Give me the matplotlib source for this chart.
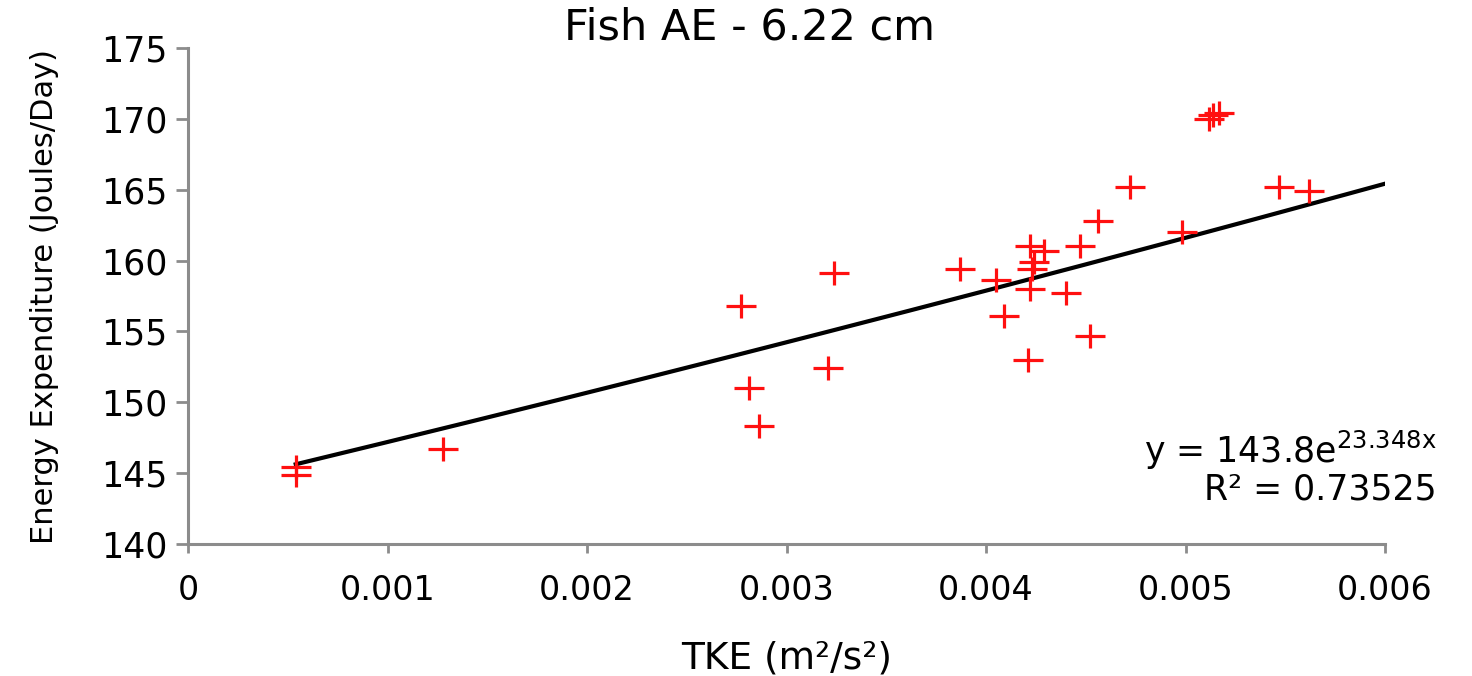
import numpy as np
import matplotlib
matplotlib.use("Agg")
import matplotlib.pyplot as plt
from matplotlib.path import Path

## Data ##

tke = [0.00054, 0.00054, 0.00128, 0.00277, 0.00281, 0.00286, 0.00321,
       0.00324, 0.00387, 0.00405, 0.00409, 0.00421, 0.00422, 0.00423,
       0.00424, 0.00422, 0.00429, 0.00440, 0.00447, 0.00452, 0.00456,
       0.00472, 0.00498, 0.00512, 0.00514, 0.00517, 0.00547, 0.00562]
energy = [145.4, 144.9, 146.7, 156.8, 151.0, 148.3, 152.4,
          159.1, 159.4, 158.6, 156.1, 153.0, 158.0, 159.4,
          159.9, 161.0, 160.7, 157.7, 161.0, 154.7, 162.8,
          165.2, 162.0, 170.0, 170.3, 170.4, 165.2, 164.9]

# exponential trend line  y = a * exp(b * x)
fit_a = 143.8
fit_b = 23.348
fit_r2 = 0.73525
fit_x_end = 0.006

x_ticks = [0, 0.001, 0.002, 0.003, 0.004, 0.005, 0.006]
x_tick_labels = ["0", "0.001", "0.002", "0.003", "0.004", "0.005", "0.006"]
y_ticks = [140, 145, 150, 155, 160, 165, 170, 175]

####

W, H = 1472, 676
fig = plt.figure(figsize=(W / 100, H / 100), dpi=100)
ax = fig.add_axes([188 / W, 1 - 544 / H, (1385 - 188) / W, (544 - 48) / H])

# wide plus marker (the source image is stretched sideways)
plus = Path([(-1.25, 0), (1.25, 0), (0, -1), (0, 1)],
            [Path.MOVETO, Path.LINETO, Path.MOVETO, Path.LINETO])

ax.plot(tke, energy, linestyle="none", marker=plus, markersize=22,
        markeredgewidth=2.3, color="#ff1010", zorder=3)

xs = np.linspace(min(tke), fit_x_end, 200)
ax.plot(xs, fit_a * np.exp(fit_b * xs), color="black", linewidth=3.0, zorder=2)

ax.set_xlim(0, 0.006)
ax.set_ylim(140, 175)
ax.set_xticks(x_ticks)
ax.set_xticklabels(x_tick_labels)
ax.set_yticks(y_ticks)

for side in ("top", "right"):
    ax.spines[side].set_visible(False)
for side in ("left", "bottom"):
    ax.spines[side].set_color("#8c8c8c")
    ax.spines[side].set_linewidth(2.2)

ax.tick_params(axis="x", direction="out", length=6.5, width=2, color="#8c8c8c",
               labelsize=24, pad=15)
ax.tick_params(axis="y", direction="out", length=9, width=2, color="#8c8c8c",
               labelsize=25, pad=6)

ax.set_xlabel("TKE (m²/s²)", fontsize=27, labelpad=24)
ax.set_ylabel("Energy Expenditure (Joules/Day)", fontsize=22, labelpad=30)
fig.suptitle("Fish AE - 6.22 cm", x=749 / W, y=0.99, fontsize=31, va="top")

ax.text(1437 / W, 1 - 450 / H, r"y = 143.8e$^{\mathregular{23.348x}}$",
        transform=fig.transFigure, ha="right", va="center", fontsize=25)
ax.text(1437 / W, 1 - 490 / H, "R² = " + str(fit_r2),
        transform=fig.transFigure, ha="right", va="center", fontsize=25)

fig.savefig("out.png", dpi=100)
